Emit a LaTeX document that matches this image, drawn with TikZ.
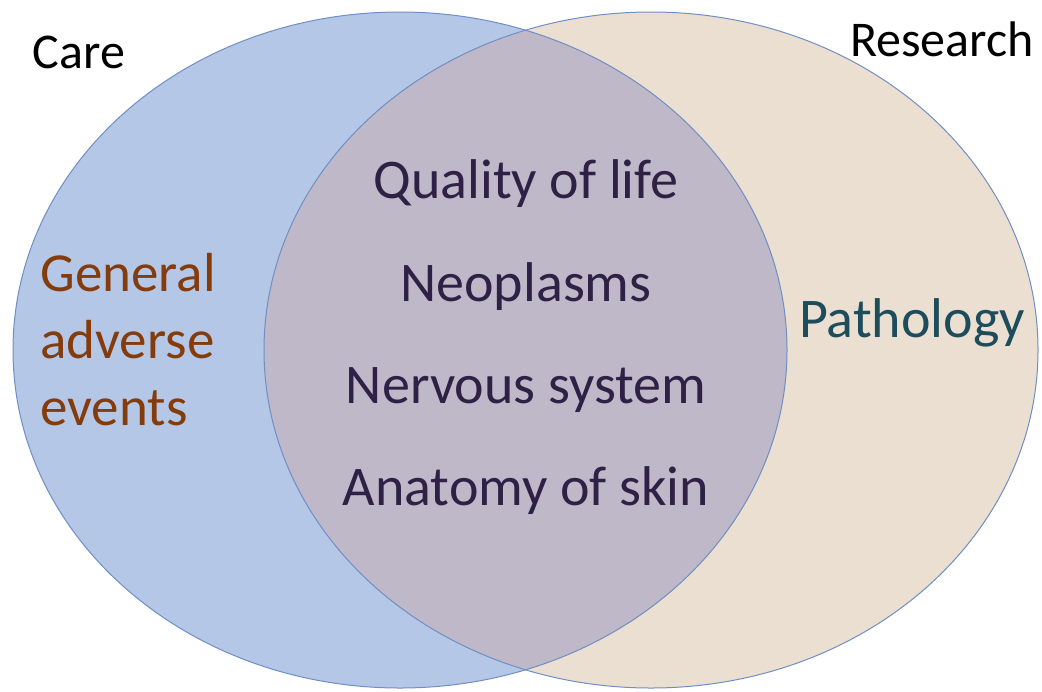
\documentclass[tikz,border=0pt]{standalone}
\usepackage{fontspec}
\setmainfont{Carlito}
\definecolor{careblue}{HTML}{B4C7E7}
\definecolor{researchtan}{HTML}{EBDFD2}
\definecolor{bothgrey}{HTML}{BFB8C8}
\definecolor{rimblue}{HTML}{6F8FC4}
\definecolor{advbrown}{HTML}{843C0C}
\definecolor{pathteal}{HTML}{1D4C5B}
\definecolor{sharedtext}{HTML}{2E2145}
\begin{document}
\begin{tikzpicture}[x=0.5pt,y=-0.5pt,
  set/.style={x radius=193.5pt,y radius=169pt},
  rim/.style={draw=rimblue,line width=0.5pt},
  title/.style={font=\fontsize{25}{30}\selectfont,text=black,inner sep=0pt,anchor=base},
  shared/.style={font=\fontsize{28}{34}\selectfont,text=sharedtext,inner sep=0pt,anchor=base}]
\useasboundingbox (0,0) rectangle (1042,691);
% the two sets
\fill[careblue] (400,350) ellipse [set];
\fill[researchtan] (651,350) ellipse [set];
\begin{scope}
\clip (400,350) ellipse [set];
\fill[bothgrey] (651,350) ellipse [set];
\end{scope}
\draw[rim] (400,350) ellipse [set];
\draw[rim] (651,350) ellipse [set];

\draw (79,68) node[title] (care) {Care};
\draw (942,56) node[title] (research) {Research};

\draw (40,425) node[anchor=base west,inner sep=0pt,align=left,text=advbrown,
  font=\fontsize{27.5}{33.5}\selectfont] (general) {General\\adverse\\events};
\draw (912,337) node[anchor=base,inner sep=0pt,text=pathteal,
  font=\fontsize{28}{34}\selectfont] (pathology) {Pathology};

\draw (526,198) node[shared] (quality) {Quality of life};
\draw (526,301) node[shared] (neoplasms) {Neoplasms};
\draw (526,403) node[shared] (nervous) {Nervous system};
\draw (526,505) node[shared] (anatomy) {Anatomy of skin};
\end{tikzpicture}
\end{document}
